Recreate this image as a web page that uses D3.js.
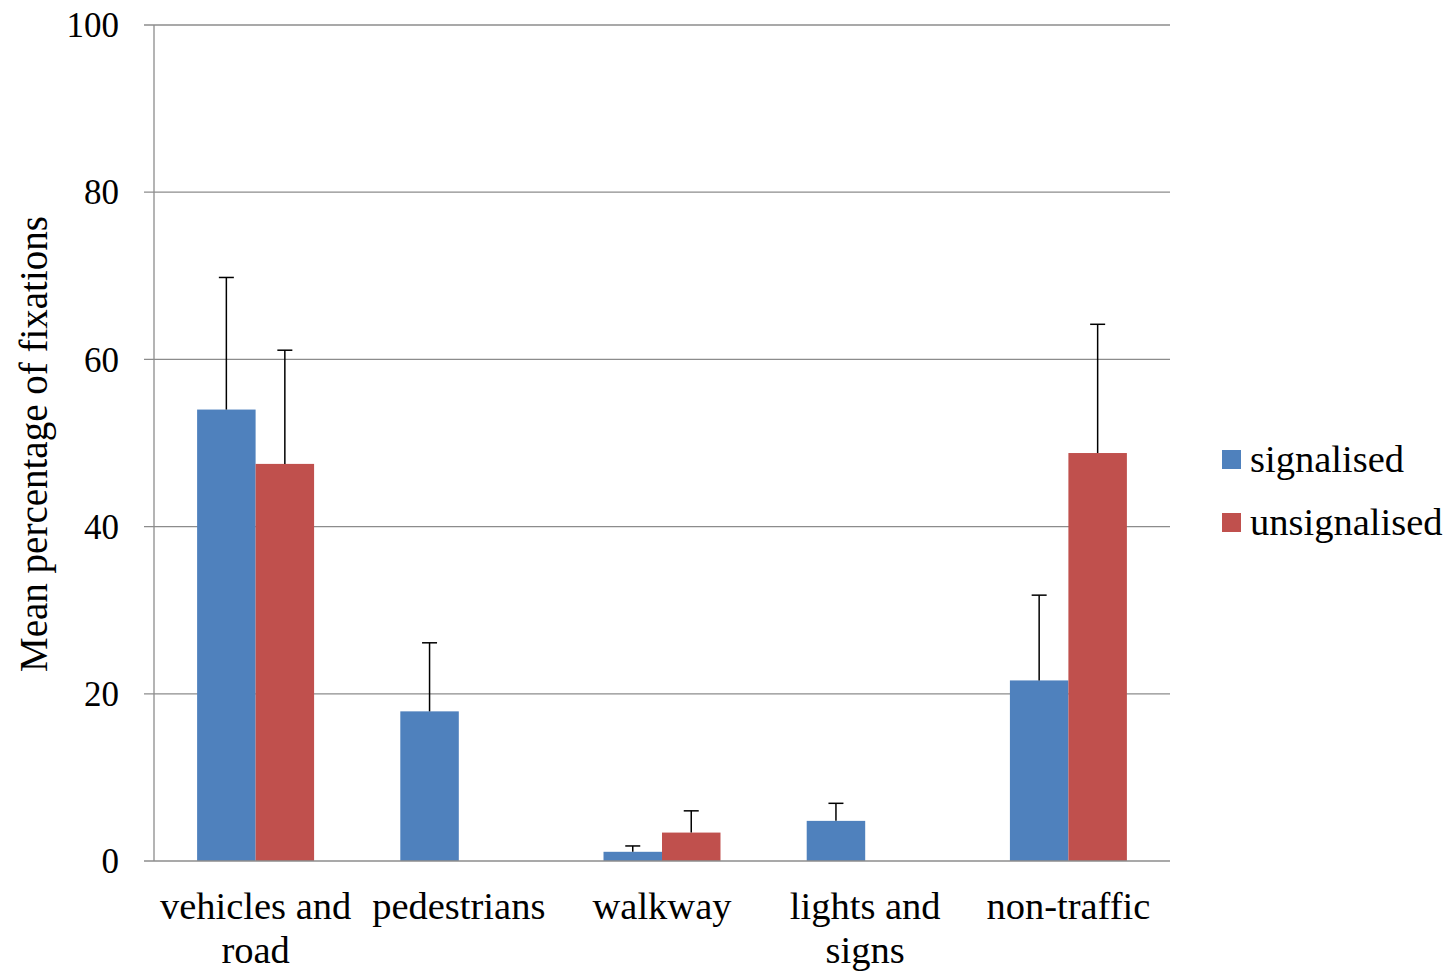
<!DOCTYPE html>
<html><head><meta charset="utf-8">
<script src="https://cdn.jsdelivr.net/npm/d3@7"></script>
<style>body{margin:0;background:#fff}</style>
</head><body><svg id="c" width="1451" height="974"></svg>
<script>
const categories = [["vehicles and","road"],["pedestrians"],["walkway"],["lights and","signs"],["non-traffic"]];
const seriesNames = ["signalised","unsignalised"];
const signalised = [54.0, 17.9, 1.1, 4.8, 21.6];
const unsignalised = [47.5, 0, 3.4, 0, 48.8];
const signalisedErr = [69.8, 26.1, 1.8, 6.9, 31.8];
const unsignalisedErr = [61.1, null, 6.0, null, 64.2];
const yTicks = [0,20,40,60,80,100];
const colors = ["#4f81bd","#c0504d"];

const svg = d3.select("#c");
const L=154, R=1170, T=25, B=861;
const font = "'Liberation Serif','Times New Roman',serif";
const x = d3.scaleBand().domain(d3.range(categories.length)).range([L,R]).paddingInner(0).paddingOuter(0);
const inner = d3.scaleBand().domain(seriesNames).range([0,x.bandwidth()]).paddingInner(0).paddingOuter(0.737);
const y = d3.scaleLinear().domain([0,100]).range([B,T]);

// gridlines
svg.append("g").selectAll("line").data(yTicks.filter(d=>d>0)).join("line")
  .attr("x1",L-10).attr("x2",R).attr("y1",d=>y(d)).attr("y2",d=>y(d))
  .attr("stroke","#8c8c8c").attr("stroke-width",1.3);

const series = [signalised, unsignalised];
const errs = [signalisedErr, unsignalisedErr];
series.forEach((vals,si)=>{
  const g = svg.append("g");
  g.selectAll("rect").data(vals).join("rect")
    .attr("x",(d,i)=>x(i)+inner(seriesNames[si]))
    .attr("width",inner.bandwidth())
    .attr("y",d=>y(d)).attr("height",d=>y(0)-y(d))
    .attr("fill",colors[si]);
});
series.forEach((vals,si)=>{
  const g = svg.append("g");
  vals.forEach((v,i)=>{
    const e = errs[si][i];
    if(e==null) return;
    const cx = x(i)+inner(seriesNames[si])+inner.bandwidth()/2;
    g.append("line").attr("x1",cx).attr("x2",cx).attr("y1",y(v)).attr("y2",y(e)).attr("stroke","#000").attr("stroke-width",1.5);
    g.append("line").attr("x1",cx-7.5).attr("x2",cx+7.5).attr("y1",y(e)).attr("y2",y(e)).attr("stroke","#000").attr("stroke-width",1.5);
  });
});

// axes lines
svg.append("line").attr("x1",L).attr("x2",L).attr("y1",T).attr("y2",B).attr("stroke","#8c8c8c").attr("stroke-width",1.3);
svg.append("line").attr("x1",L-10).attr("x2",R).attr("y1",B).attr("y2",B).attr("stroke","#8c8c8c").attr("stroke-width",1.3);

// y tick labels
svg.append("g").selectAll("text").data(yTicks).join("text")
  .attr("x",L-35).attr("y",d=>y(d)).attr("dy","0.35em").attr("text-anchor","end")
  .attr("font-family",font).attr("font-size",35).text(d=>d);

// x labels
const xl = svg.append("g");
categories.forEach((lines,i)=>{
  const t = xl.append("text").attr("x",x(i)+x.bandwidth()/2).attr("y",919)
    .attr("text-anchor","middle").attr("font-family",font).attr("font-size",38.5);
  lines.forEach((ln,j)=>t.append("tspan").attr("x",x(i)+x.bandwidth()/2).attr("dy",j?44:0).text(ln));
});

// y title
svg.append("text").attr("transform",`translate(47,444) rotate(-90)`)
  .attr("text-anchor","middle").attr("font-family",font).attr("font-size",39)
  .text("Mean percentage of fixations");

// legend
const lg = svg.append("g");
seriesNames.forEach((n,i)=>{
  lg.append("rect").attr("x",1222).attr("y",450+i*63).attr("width",19).attr("height",19).attr("fill",colors[i]);
  lg.append("text").attr("x",1250).attr("y",459+i*63).attr("dy","0.35em").attr("font-family",font).attr("font-size",38.5).text(n);
});
</script></body></html>
